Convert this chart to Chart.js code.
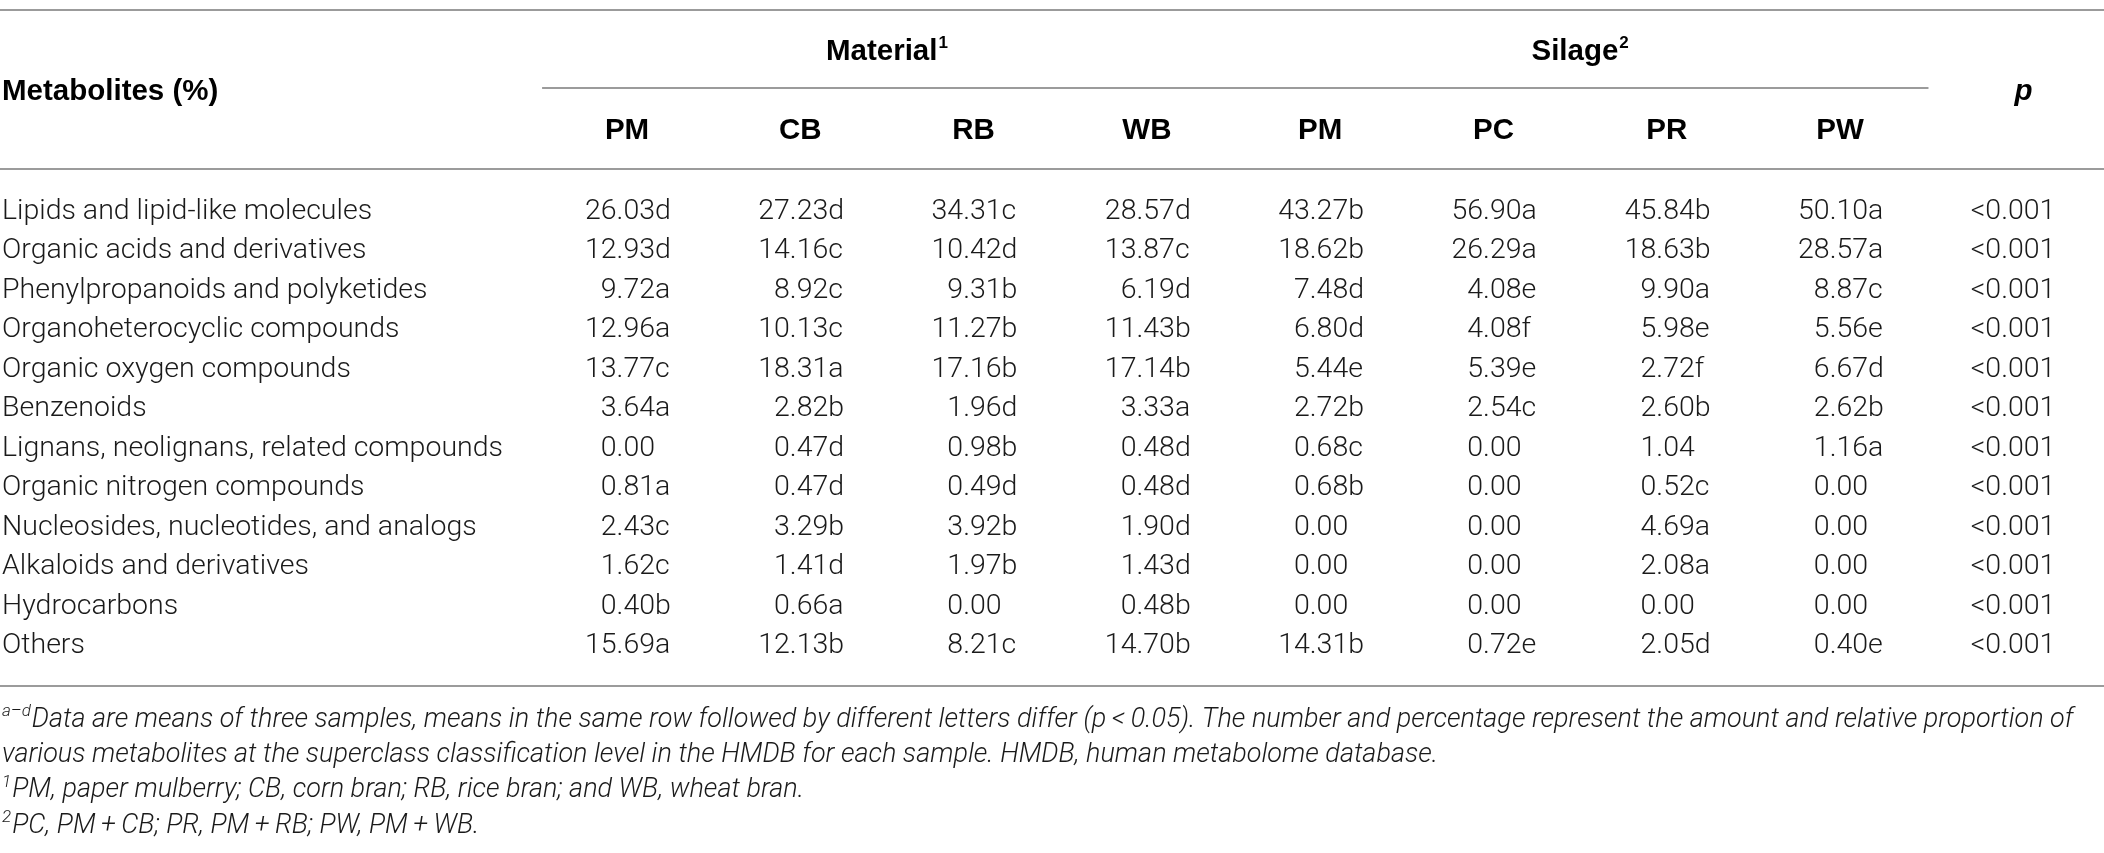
<!DOCTYPE html>
<html>
<head>
<meta charset="utf-8">
<script src="https://cdn.jsdelivr.net/npm/chart.js@4.4.0/dist/chart.umd.min.js"></script>
<style>
  html, body { margin: 0; padding: 0; background: #fff; }
  #wrap { width: 2104px; height: 853px; }
</style>
</head>
<body>
<div id="wrap"><canvas id="tableChart" width="2104" height="853"></canvas></div>
<script>
// Rows and column headers
const metabolites = [
    'Lipids and lipid-like molecules',
    'Organic acids and derivatives',
    'Phenylpropanoids and polyketides',
    'Organoheterocyclic compounds',
    'Organic oxygen compounds',
    'Benzenoids',
    'Lignans, neolignans, related compounds',
    'Organic nitrogen compounds',
    'Nucleosides, nucleotides, and analogs',
    'Alkaloids and derivatives',
    'Hydrocarbons',
    'Others'
];
const materialCols = ['PM', 'CB', 'RB', 'WB'];
const silageCols = ['PM', 'PC', 'PR', 'PW'];

// Cell values (mean + significance letter)
const pmMaterial = ['26.03d', '12.93d', '9.72a', '12.96a', '13.77c', '3.64a', '0.00', '0.81a', '2.43c', '1.62c', '0.40b', '15.69a'];
const cbMaterial = ['27.23d', '14.16c', '8.92c', '10.13c', '18.31a', '2.82b', '0.47d', '0.47d', '3.29b', '1.41d', '0.66a', '12.13b'];
const rbMaterial = ['34.31c', '10.42d', '9.31b', '11.27b', '17.16b', '1.96d', '0.98b', '0.49d', '3.92b', '1.97b', '0.00', '8.21c'];
const wbMaterial = ['28.57d', '13.87c', '6.19d', '11.43b', '17.14b', '3.33a', '0.48d', '0.48d', '1.90d', '1.43d', '0.48b', '14.70b'];
const pmSilage = ['43.27b', '18.62b', '7.48d', '6.80d', '5.44e', '2.72b', '0.68c', '0.68b', '0.00', '0.00', '0.00', '14.31b'];
const pcSilage = ['56.90a', '26.29a', '4.08e', '4.08f', '5.39e', '2.54c', '0.00', '0.00', '0.00', '0.00', '0.00', '0.72e'];
const prSilage = ['45.84b', '18.63b', '9.90a', '5.98e', '2.72f', '2.60b', '1.04', '0.52c', '4.69a', '2.08a', '0.00', '2.05d'];
const pwSilage = ['50.10a', '28.57a', '8.87c', '5.56e', '6.67d', '2.62b', '1.16a', '0.00', '0.00', '0.00', '0.00', '0.40e'];
const pValues = ['<0.001', '<0.001', '<0.001', '<0.001', '<0.001', '<0.001', '<0.001', '<0.001', '<0.001', '<0.001', '<0.001', '<0.001'];

const footnotes = [
    { sup: 'a\u2013d', text: 'Data are means of three samples, means in the same row followed by different letters differ (p\u2009<\u20090.05). The number and percentage represent the amount and relative proportion of' },
    { sup: '', text: 'various metabolites at the superclass classification level in the HMDB for each sample. HMDB, human metabolome database.' },
    { sup: '1', text: 'PM, paper mulberry; CB, corn bran; RB, rice bran; and WB, wheat bran.' },
    { sup: '2', text: 'PC, PM\u2009+\u2009CB; PR, PM\u2009+\u2009RB; PW, PM\u2009+\u2009WB.' }
];

// Table geometry (canvas px) used to set up the scales
const W = 2104, H = 853;
const colFirst = 627, colStep = 173.3;
const rowTop = 211.5, rowStep = 39.5;
const numShift = 28;

const FONT = '"Roboto", "Liberation Sans", Arial, sans-serif';
const HFONT = '"Liberation Sans", Arial, sans-serif';
const bodyFont = '300 28.5px ' + FONT;
const headFont = 'bold 29.5px ' + HFONT;
const supFont = 'bold 17px ' + HFONT;
const noteFont = 'italic 300 27px ' + FONT;

function columnDataset(values, col) {
    return {
        texts: values,
        data: values.map((v, i) => ({ x: col, y: i })),
        pointRadius: 0,
        showLine: false
    };
}

const datasets = [pmMaterial, cbMaterial, rbMaterial, wbMaterial, pmSilage, pcSilage, prSilage, pwSilage, pValues]
    .map((vals, col) => columnDataset(vals, col));

function hLine(ctx, x1, x2, y) {
    ctx.save();
    ctx.strokeStyle = '#9b9b9b';
    ctx.lineWidth = 2;
    ctx.beginPath();
    ctx.moveTo(x1, Math.round(y));
    ctx.lineTo(x2, Math.round(y));
    ctx.stroke();
    ctx.restore();
}

function centeredWithSup(ctx, main, sup, x, y) {
    ctx.font = headFont;
    const wMain = ctx.measureText(main).width;
    ctx.font = supFont;
    const wSup = ctx.measureText(sup).width + 1;
    const start = x - (wMain + wSup) / 2;
    ctx.textAlign = 'left';
    ctx.font = headFont;
    ctx.fillText(main, start, y);
    ctx.font = supFont;
    ctx.fillText(sup, start + wMain + 1, y - 9);
}

const tablePlugin = {
    id: 'tableText',
    afterDatasetsDraw(chart) {
        const ctx = chart.ctx;
        const x = chart.scales.x, y = chart.scales.y;
        const area = chart.chartArea;

        // rules
        hLine(ctx, area.left, area.right, y.getPixelForValue(-5.09));
        hLine(ctx, x.getPixelForValue(-0.49), x.getPixelForValue(7.51), y.getPixelForValue(-3.13));
        hLine(ctx, area.left, area.right, y.getPixelForValue(-1.07));
        hLine(ctx, area.left, area.right, y.getPixelForValue(12.0));

        ctx.save();
        ctx.textBaseline = 'middle';
        ctx.fillStyle = '#000';

        // header
        ctx.font = headFont;
        ctx.textAlign = 'left';
        ctx.fillText('Metabolites (%)', area.left + 2, y.getPixelForValue(-3.04));
        centeredWithSup(ctx, 'Material', '1', x.getPixelForValue(1.5), y.getPixelForValue(-4.04));
        centeredWithSup(ctx, 'Silage', '2', x.getPixelForValue(5.5), y.getPixelForValue(-4.04));
        ctx.font = headFont;
        ctx.textAlign = 'center';
        materialCols.concat(silageCols).forEach((c, i) =>
            ctx.fillText(c, x.getPixelForValue(i), y.getPixelForValue(-2.04)));
        ctx.font = 'italic bold 29.5px ' + HFONT;
        ctx.fillText('p', x.getPixelForValue(8) + 10, y.getPixelForValue(-3.04));

        // row labels
        ctx.fillStyle = '#1a1a1a';
        ctx.font = bodyFont;
        ctx.textAlign = 'left';
        metabolites.forEach((m, i) => ctx.fillText(m, area.left + 2, y.getPixelForValue(i)));

        // cells, decimal aligned: number right-aligned, letter after it
        chart.data.datasets.forEach((ds, di) => {
            const meta = chart.getDatasetMeta(di);
            meta.data.forEach((pt, i) => {
                const t = ds.texts[i];
                ctx.font = bodyFont;
                const m = t.match(/^([\d.]+)([a-z]?)$/);
                if (!m) {
                    ctx.textAlign = 'right';
                    ctx.fillText(t, pt.x + 42, pt.y);
                    return;
                }
                const anchor = pt.x + numShift;
                ctx.textAlign = 'right';
                ctx.fillText(m[1], anchor, pt.y);
                if (m[2]) {
                    ctx.textAlign = 'left';
                    ctx.fillText(m[2], anchor, pt.y);
                }
            });
        });

        // footnotes
        footnotes.forEach((f, i) => {
            const fy = y.getPixelForValue(12.87 + i * 0.895);
            let fx = area.left + 2;
            ctx.textAlign = 'left';
            if (f.sup) {
                ctx.font = 'italic 300 17px ' + FONT;
                ctx.fillText(f.sup, fx, fy - 8);
                fx += ctx.measureText(f.sup).width + 1;
            }
            ctx.font = noteFont;
            ctx.fillText(f.text, fx, fy);
        });
        ctx.restore();
    }
};

new Chart(document.getElementById('tableChart').getContext('2d'), {
    type: 'scatter',
    data: { datasets: datasets },
    options: {
        responsive: false,
        animation: false,
        devicePixelRatio: 1,
        events: [],
        layout: { padding: 0 },
        plugins: { legend: { display: false }, tooltip: { enabled: false }, title: { display: false } },
        scales: {
            x: { type: 'linear', display: false, min: -colFirst / colStep, max: (W - colFirst) / colStep },
            y: { type: 'linear', display: false, reverse: true, min: -rowTop / rowStep, max: (H - rowTop) / rowStep }
        }
    },
    plugins: [tablePlugin]
});
</script>
</body>
</html>
